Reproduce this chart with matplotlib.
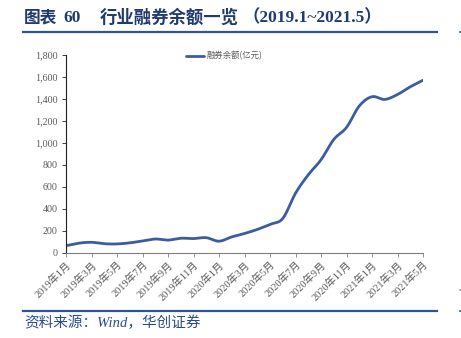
import numpy as np
import matplotlib
matplotlib.use("Agg")
import matplotlib.pyplot as plt
from matplotlib.ticker import FuncFormatter, FixedLocator

plt.rcParams['font.family'] = ['Noto Sans CJK SC', 'DejaVu Sans']

# Monthly short-selling balance of the market, 100 million yuan
months = ["2019年1月", "2019年2月", "2019年3月", "2019年4月", "2019年5月", "2019年6月",
          "2019年7月", "2019年8月", "2019年9月", "2019年10月", "2019年11月", "2019年12月",
          "2020年1月", "2020年2月", "2020年3月", "2020年4月", "2020年5月", "2020年6月",
          "2020年7月", "2020年8月", "2020年9月", "2020年10月", "2020年11月", "2020年12月",
          "2021年1月", "2021年2月", "2021年3月", "2021年4月", "2021年5月"]
balance = [62, 85, 93, 80, 78, 88, 105, 123, 113, 130, 127, 135,
           103, 142, 173, 210, 256, 310, 540, 708, 845, 1030, 1140, 1335,
           1420, 1395, 1440, 1510, 1570]
series_name = "融券余额(亿元)"
y_ticks = [0, 200, 400, 600, 800, 1000, 1200, 1400, 1600, 1800]

NAVY = "#1F3B70"
BLUE = "#2F5496"
LINE = "#3A5DA0"
GRAY = "#595959"
SERIF = ['Liberation Serif', 'Noto Sans CJK SC']


def smooth(xs, ys, n=20):
    """Catmull-Rom style smoothing, similar to a spreadsheet's smoothed line."""
    xs = np.asarray(xs, float)
    ys = np.asarray(ys, float)
    px = np.concatenate([[2 * xs[0] - xs[1]], xs, [2 * xs[-1] - xs[-2]]])
    py = np.concatenate([[2 * ys[0] - ys[1]], ys, [2 * ys[-1] - ys[-2]]])
    t = np.linspace(0, 1, n, endpoint=False)

    def seg(p0, p1, p2, p3):
        return 0.5 * ((2 * p1) + (-p0 + p2) * t + (2 * p0 - 5 * p1 + 4 * p2 - p3) * t ** 2
                      + (-p0 + 3 * p1 - 3 * p2 + p3) * t ** 3)

    outx, outy = [], []
    for i in range(1, len(px) - 2):
        outx.extend(seg(*px[i - 1:i + 3]))
        outy.extend(seg(*py[i - 1:i + 3]))
    outx.append(xs[-1])
    outy.append(ys[-1])
    return np.array(outx), np.array(outy)


W, H = 461, 338
fig = plt.figure(figsize=(W / 100, H / 100), dpi=100)

ax = fig.add_axes([66 / W, 1 - 252.5 / H, (423 - 66) / W, (252.5 - 55) / H])
x = np.arange(len(balance))
sx, sy = smooth(x, balance)
ax.plot(sx, sy, color=LINE, lw=2.0, solid_capstyle='round', label=series_name)

ax.set_xlim(0, len(balance) - 1)
ax.set_ylim(0, 1800)
ax.yaxis.set_major_locator(FixedLocator(y_ticks))
ax.yaxis.set_major_formatter(FuncFormatter(lambda v, p: f"{int(v):,}"))
tick_pos = list(range(0, len(months), 2))
ax.set_xticks(tick_pos)
ax.set_xticklabels([months[i] for i in tick_pos], rotation=45, ha='right',
                   rotation_mode='anchor', fontsize=7.4, color=GRAY, family=SERIF)
for lab in ax.get_yticklabels():
    lab.set_family('Liberation Serif')
    lab.set_fontsize(7.2)
    lab.set_color(GRAY)
ax.tick_params(axis='x', direction='out', length=3, width=0.6, color="#7F7F7F", pad=2)
ax.tick_params(axis='y', direction='out', length=3, width=0.6, color="#202020", pad=3)
for s in ('top', 'right'):
    ax.spines[s].set_visible(False)
ax.spines['left'].set_color("#202020")
ax.spines['left'].set_linewidth(0.8)
ax.spines['bottom'].set_color("#7F7F7F")
ax.spines['bottom'].set_linewidth(0.8)

fig.legend(loc='center', bbox_to_anchor=(224 / W, 1 - 56 / H), frameon=False,
           fontsize=6, handlelength=2.2, handletextpad=0.3, labelcolor=GRAY)

# Header
ty = 1 - 18 / H
fig.text(24 / W, ty, "图表", fontsize=12, fontweight='bold', color=NAVY, va='center', ha='left')
fig.text(63 / W, ty, "60", fontsize=12.5, fontweight='bold', color=NAVY, va='center', ha='left',
         family='Liberation Serif')
fig.text(100 / W, ty, "行业融券余额一览", fontsize=12.5, fontweight='bold', color=NAVY,
         va='center', ha='left')
fig.text(243 / W, ty, "（2019.1~2021.5）", fontsize=12.5, fontweight='bold', color=NAVY,
         va='center', ha='left', family=SERIF)
fig.add_artist(plt.Line2D([23 / W, 437 / W], [1 - 32 / H, 1 - 32 / H], color=BLUE, lw=1.6))

# Footer
fig.add_artist(plt.Line2D([23 / W, 437 / W], [1 - 311 / H, 1 - 311 / H], color=BLUE, lw=1.6))
fig.text(24 / W, 1 - 323 / H, "资料来源：Wind，华创证券", fontsize=10.5, style='italic',
         color="#2B4C8C", va='center', ha='left', family=['Liberation Serif', 'Noto Sans CJK SC'])

# Small page-edge marks on the right
for yy, c in ((32, BLUE), (290, "#A0A0A0"), (311, BLUE)):
    fig.add_artist(plt.Line2D([459.5 / W, 461 / W], [1 - yy / H, 1 - yy / H], color=c, lw=1.2))

fig.savefig("out.png", dpi=100)
